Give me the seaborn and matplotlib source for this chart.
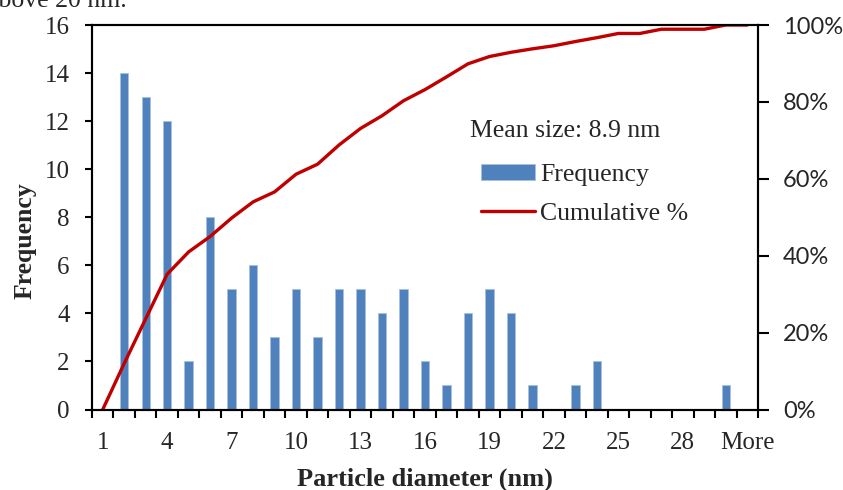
import matplotlib
matplotlib.use("Agg")
import matplotlib.pyplot as plt
from matplotlib.ticker import FixedLocator, PercentFormatter
import seaborn as sns
import pandas as pd

# Size bins (nm) and the particle counts per bin
bins = [str(i) for i in range(1, 31)] + ["More"]
frequency = [0, 14, 13, 12, 2, 8, 5, 6, 3, 5, 3, 5, 5, 4, 5, 2, 1, 4, 5, 4,
             1, 0, 1, 2, 0, 0, 0, 0, 0, 1, 0]
# Cumulative share (%) for each bin
cumulative = [0, 12, 23.6, 35.2, 41, 45, 49.8, 54, 56.6, 61.2, 63.8, 68.8,
              73.1, 76.4, 80.3, 83.2, 86.5, 89.9, 91.8, 92.9, 93.8, 94.6,
              95.7, 96.7, 97.8, 97.8, 98.9, 98.9, 98.9, 100, 100]
tick_labels = ["1", "4", "7", "10", "13", "16", "19", "22", "25", "28", "More"]
mean_text = "Mean size: 8.9 nm"

sns.set_theme(style="white")
plt.rcParams["font.family"] = ["Liberation Serif", "DejaVu Sans"]

W, H = 843, 490
AX_L, AX_R, AX_T, AX_B = 92, 758, 25, 409.5
fig = plt.figure(figsize=(W / 100, H / 100), dpi=100)
ax = fig.add_axes([AX_L / W, 1 - AX_B / H, (AX_R - AX_L) / W, (AX_B - AX_T) / H])

df = pd.DataFrame({"bin": bins, "Frequency": frequency})
sns.barplot(data=df, x="bin", y="Frequency", order=bins, color="#4F81BD",
            saturation=1, width=0.39, edgecolor="#a9c0df", linewidth=0.6,
            ax=ax, label="Frequency", legend=False)
if ax.get_legend() is not None:
    ax.get_legend().remove()

ax2 = ax.twinx()
line_df = pd.DataFrame({"pos": list(range(len(bins))),
                        "cum": [c / 100 for c in cumulative]})
sns.lineplot(data=line_df, x="pos", y="cum", color="#C00000", linewidth=2.4,
             ax=ax2, label="Cumulative %", legend=False)
if ax2.get_legend() is not None:
    ax2.get_legend().remove()

ax.set_xlim(-0.5, len(bins) - 0.5)
ax.set_ylim(0, 16)
ax2.set_ylim(0, 1)

black = "black"
for a in (ax, ax2):
    for s in a.spines.values():
        s.set_color(black)
        s.set_linewidth(1.5)

# left axis
ax.set_yticks(range(0, 17, 2))
ax.tick_params(axis="y", direction="out", length=5, width=1.5, color=black,
               labelsize=18, pad=11, left=True)
# x axis: labels every third bin, tick marks on the bin boundaries
label_pos = [bins.index(t) for t in tick_labels]
ax.xaxis.set_major_locator(FixedLocator(label_pos))
ax.set_xticklabels(tick_labels)
ax.xaxis.set_minor_locator(FixedLocator([i - 0.5 for i in range(len(bins) + 1)]))
ax.tick_params(axis="x", which="major", length=0, labelsize=18, pad=16)
ax.tick_params(axis="x", which="minor", direction="out", length=6, width=1.5,
               color=black, bottom=True)

# right axis
ax2.yaxis.set_major_locator(FixedLocator([0, 0.2, 0.4, 0.6, 0.8, 1.0]))
ax2.yaxis.set_major_formatter(PercentFormatter(1.0, decimals=0))
ax2.tick_params(axis="y", direction="out", length=8, width=1.5, color=black,
                pad=10, right=True)
for t in ax2.get_yticklabels():
    t.set_fontfamily("Lato")
    t.set_fontsize(17)
ax2.set_ylabel("")
ax2.set_xlabel("")

ax.set_xlabel("Particle diameter (nm)", fontsize=19, fontweight="bold", labelpad=10)
ax.set_ylabel("Frequency", fontsize=18.5, fontweight="bold")
ax.yaxis.set_label_coords((37 - AX_L) / (AX_R - AX_L), (AX_B - 241) / (AX_B - AX_T))

# legend
h1, l1 = ax.get_legend_handles_labels()
h2, l2 = ax2.get_legend_handles_labels()
leg = ax2.legend(h1 + h2, l1 + l2, loc="upper left",
                 bbox_to_anchor=(481 / W, 1 - 164 / H), bbox_transform=fig.transFigure,
                 frameon=False, fontsize=18.5, handlelength=2.1, handleheight=0.55,
                 handletextpad=0.2, labelspacing=0.65, borderaxespad=0, borderpad=0)
fig.text(565 / W, 1 - 131 / H, mean_text, ha="center", va="center", fontsize=18.5)

# caption line running in from above
fig.text(127 / W, 1 - 7 / H, "above 20 nm.", ha="right", va="baseline", fontsize=18.5)

fig.savefig("out.png", dpi=100)
